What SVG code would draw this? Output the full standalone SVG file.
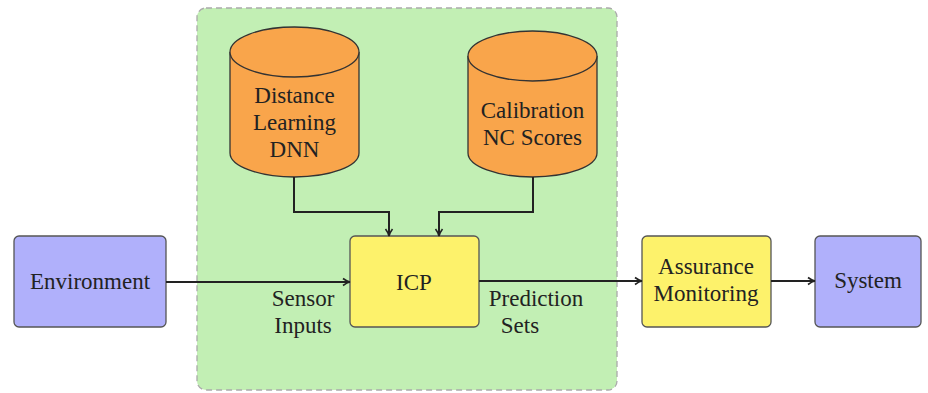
<svg xmlns="http://www.w3.org/2000/svg" width="928" height="393" viewBox="0 0 928 393">
<defs>
<marker id="arr" viewBox="0 0 10 10" refX="9" refY="5" markerWidth="10" markerHeight="10" markerUnits="userSpaceOnUse" orient="auto">
<path d="M2,1.5 Q6,4.5 9,5 Q6,5.5 2,8.5" fill="none" stroke="#222" stroke-width="1.6"/>
</marker>
</defs>
<rect id="container" x="197" y="8" width="420" height="382" rx="9" fill="#c2efb4" stroke="#aaa" stroke-width="1.3" stroke-dasharray="6,4"/>
<g id="dnn" fill="#f9a54b" stroke="#333" stroke-width="1.3">
<path d="M230,52 V153 A64.5,24 0 0 0 359,153 V52"/>
<ellipse cx="294.5" cy="52" rx="64.5" ry="25"/>
</g>
<g id="calib" fill="#f9a54b" stroke="#333" stroke-width="1.3">
<path d="M468,56 V153 A64.5,24 0 0 0 597,153 V56"/>
<ellipse cx="532.5" cy="56" rx="64.5" ry="25"/>
</g>
<g id="environment" stroke="#555" stroke-width="1.3">
<rect x="14" y="236" width="152" height="91" rx="5" fill="#b0b0fb"/>
</g>
<g id="icp" stroke="#555" stroke-width="1.3">
<rect x="350" y="236" width="129" height="91" rx="5" fill="#fdf26b"/>
</g>
<g id="assurance" stroke="#555" stroke-width="1.3">
<rect x="642" y="236" width="129" height="91" rx="5" fill="#fdf26b"/>
</g>
<g id="system" stroke="#555" stroke-width="1.3">
<rect x="815" y="236" width="106" height="91" rx="5" fill="#b0b0fb"/>
</g>
<g id="connectors" fill="none" stroke="#222" stroke-width="2" marker-end="url(#arr)">
<path d="M294,177 V212 H389 V236"/>
<path d="M533,177 V212 H439 V236"/>
<path d="M166,282 H350"/>
<path d="M479,281 H642"/>
<path d="M771,281 H815"/>
</g>
<text font-family="Liberation Serif" font-size="23" fill="#222" text-anchor="middle" x="294.5" y="103">Distance</text>
<text font-family="Liberation Serif" font-size="23" fill="#222" text-anchor="middle" x="294.5" y="130">Learning</text>
<text font-family="Liberation Serif" font-size="23" fill="#222" text-anchor="middle" x="294.5" y="157">DNN</text>
<text font-family="Liberation Serif" font-size="23" fill="#222" text-anchor="middle" x="532.5" y="118">Calibration</text>
<text font-family="Liberation Serif" font-size="23" fill="#222" text-anchor="middle" x="532.5" y="145">NC Scores</text>
<text font-family="Liberation Serif" font-size="23" fill="#222" text-anchor="middle" x="90" y="289">Environment</text>
<text font-family="Liberation Serif" font-size="23" fill="#222" text-anchor="middle" x="414" y="290">ICP</text>
<text font-family="Liberation Serif" font-size="23" fill="#222" text-anchor="middle" x="706" y="274">Assurance</text>
<text font-family="Liberation Serif" font-size="23" fill="#222" text-anchor="middle" x="706" y="301">Monitoring</text>
<text font-family="Liberation Serif" font-size="23" fill="#222" text-anchor="middle" x="868" y="288">System</text>
<text font-family="Liberation Serif" font-size="23" fill="#222" text-anchor="middle" x="303" y="306">Sensor</text>
<text font-family="Liberation Serif" font-size="23" fill="#222" text-anchor="middle" x="303" y="333">Inputs</text>
<text font-family="Liberation Serif" font-size="23" fill="#222" text-anchor="middle" x="536" y="306">Prediction</text>
<text font-family="Liberation Serif" font-size="23" fill="#222" text-anchor="middle" x="520" y="333">Sets</text>
</svg>
